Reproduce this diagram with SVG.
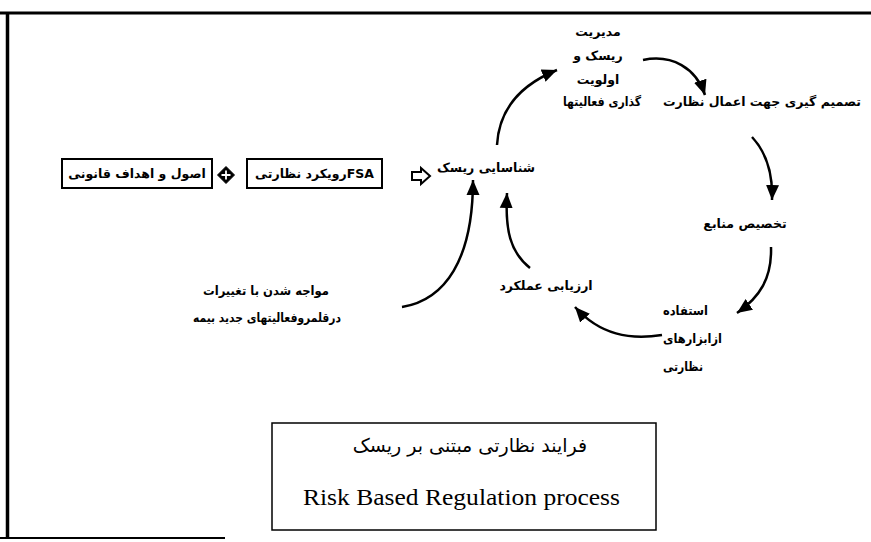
<svg xmlns="http://www.w3.org/2000/svg" width="871" height="542" viewBox="0 0 871 542">
<defs>
<style>
.fa{font-family:"DejaVu Sans","Noto Sans",sans-serif;font-weight:bold;font-size:12.5px;fill:#000;text-anchor:middle;dominant-baseline:central}
.st{text-anchor:start}
.box{fill:#fff;stroke:#000;stroke-width:2}
.con{fill:none;stroke:#000;stroke-width:2.5}
.frame{stroke:#000;fill:none}
</style>
<marker id="ah" markerUnits="userSpaceOnUse" markerWidth="16" markerHeight="16" refX="15" refY="8" orient="auto">
<path d="M0,1.5 L15,8 L0,14.5 Z" fill="#000"/>
</marker>
</defs>
<rect width="871" height="542" fill="#fff"/>
<g id="frame" class="frame">
<line x1="0" y1="13" x2="871" y2="13" stroke-width="3"/>
<line x1="7.5" y1="12" x2="7.5" y2="539" stroke-width="3.5"/>
<line x1="0" y1="538" x2="225" y2="538" stroke-width="2"/>
</g>
<g id="n-principles">
<rect class="box" x="62" y="159" width="150" height="29"/>
<text class="fa" x="137" y="173.5" direction="rtl">اصول و اهداف قانونی</text>
</g>
<g id="plus-symbol">
<path d="M226,166.5 L234.5,175 L226,183.5 L217.5,175 Z" fill="#000" stroke="#000" stroke-width="1" stroke-linejoin="round"/>
<path d="M221.5,175 H230.5 M226,170.5 V179.5" stroke="#fff" stroke-width="1.8"/>
</g>
<g id="n-fsa">
<rect class="box" x="247" y="159" width="135" height="29"/>
<text class="fa" x="314.5" y="173.5" direction="rtl">FSAرویکرد نظارتی</text>
</g>
<g id="hollow-arrow">
<path d="M412,172 H421 V168 L430,176 L421,184 V180 H412 Z" fill="#fff" stroke="#000" stroke-width="2"/>
</g>
<g id="n-identify"><text class="fa" x="486" y="167">شناسایی ریسک</text></g>
<g id="n-manage">
<text class="fa" x="598" y="31">مدیریت</text>
<text class="fa" x="598" y="55">ریسک و</text>
<text class="fa" x="598" y="79">اولویت</text>
<text class="fa" x="602" y="101" font-size="13" textLength="78" lengthAdjust="spacingAndGlyphs">گذاری فعالیتها</text>
</g>
<g id="n-decide"><text class="fa" x="762" y="101">تصمیم گیری جهت اعمال نظارت</text></g>
<g id="n-allocate"><text class="fa" x="745" y="223">تخصیص منابع</text></g>
<g id="n-tools">
<text class="fa st" x="663" y="310" textLength="45" lengthAdjust="spacingAndGlyphs">استفاده</text>
<text class="fa st" x="663" y="338" textLength="59" lengthAdjust="spacingAndGlyphs">ازابزارهای</text>
<text class="fa st" x="663" y="366" textLength="40" lengthAdjust="spacingAndGlyphs">نظارتی</text>
</g>
<g id="n-evaluate"><text class="fa" x="546" y="285">ارزیابی عملکرد</text></g>
<g id="n-changes">
<text class="fa" x="266" y="290" font-size="13" textLength="126" lengthAdjust="spacingAndGlyphs">مواجه  شدن با تغییرات</text>
<text class="fa" x="267" y="317" font-size="13" textLength="148" lengthAdjust="spacingAndGlyphs">درقلمروفعالیتهای جدید بیمه</text>
</g>
<g id="title-box">
<rect x="272" y="423" width="384" height="107" fill="#fff" stroke="#000" stroke-width="1.5"/>
<text x="470" y="445" font-family="DejaVu Sans, sans-serif" font-size="19" text-anchor="middle" dominant-baseline="central">فرایند نظارتی مبتنی بر ریسک</text>
<text x="461.5" y="497" font-family="Liberation Serif, serif" font-size="24" text-anchor="middle" dominant-baseline="central" textLength="317" lengthAdjust="spacingAndGlyphs">Risk Based Regulation process</text>
</g>
<g id="connectors" class="con">
<path marker-end="url(#ah)" d="M497,145 C499,110 520,85 557,70"/>
<path marker-end="url(#ah)" d="M643,60 C672,54 696,68 705,95"/>
<path marker-end="url(#ah)" d="M752,137 C766,152 773,172 772,200"/>
<path marker-end="url(#ah)" d="M771,247 C772,278 760,297 737,313"/>
<path marker-end="url(#ah)" d="M662,335 C630,340 600,335 575,307"/>
<path marker-end="url(#ah)" d="M530,268 C510,252 505,230 507,193"/>
<path marker-end="url(#ah)" d="M402,307 C445,300 473,260 473,180"/>
</g>
</svg>
